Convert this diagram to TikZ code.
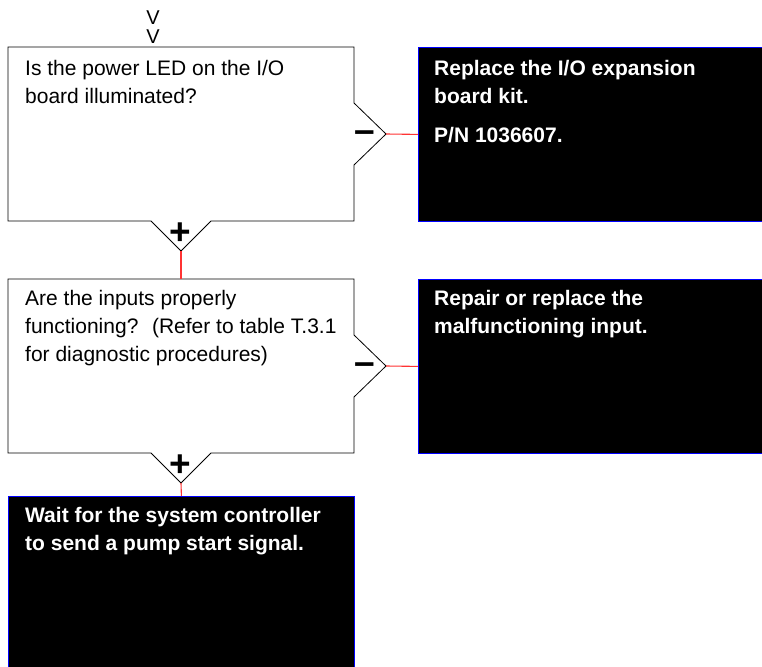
\documentclass[tikz,border=0pt]{standalone}
\usepackage{fontspec}
\setmainfont{Liberation Sans}
\usetikzlibrary{positioning}

\tikzset{
  question/.style={draw=black,line width=0.8pt,fill=white},
  action/.style={draw=blue,fill=black,line width=0.8pt,anchor=north west,inner sep=0pt},
  qtext/.style={anchor=north west,inner sep=0pt,align=left,font=\fontsize{21}{28}\selectfont},
  atext/.style={qtext,text=white,font=\fontsize{21}{28}\selectfont\bfseries},
  link/.style={draw=red!80,line width=1.1pt},
  sign/.style={inner sep=0pt,font=\fontsize{37}{37}\selectfont\bfseries},
  entry/.style={anchor=base,inner sep=0pt,font=\fontsize{20}{20}\selectfont}
}

\begin{document}
\begin{tikzpicture}[x=1pt,y=-1pt]
  \useasboundingbox (0,0) rectangle (762,666);
  \clip (0,0) rectangle (762,666);

  % entry marks
  \node[entry] (v1) at (153,25) {V};
  \node[entry] (v2) at (153,44) {V};

  % question 1
  \draw[question] (8,47) -- (354,47) -- (354,103) -- (386,134) coordinate (q1no)
    -- (354,165) -- (354,221) -- (211,221) -- (181,251) coordinate (q1yes)
    -- (151,221) -- (8,221) -- cycle;
  \node[qtext] (q1) at (25,55.4) {\strut Is the power LED on the I/O\\board illuminated?};
  \node[sign] (q1minus) at (365,137) {–};
  \node[sign] (q1plus) at (180,234) {+};

  % question 2
  \draw[question] (8,279) -- (354,279) -- (354,335) -- (386,366) coordinate (q2no)
    -- (354,397) -- (354,453) -- (211,453) -- (181,483) coordinate (q2yes)
    -- (151,453) -- (8,453) -- cycle;
  \coordinate (q2in) at (181,279);
  \node[qtext] (q2) at (25,285.4) {\strut Are the inputs properly\\functioning?~ (Refer to table T.3.1\\for diagnostic procedures)};
  \node[sign] (q2minus) at (365,369) {–};
  \node[sign] (q2plus) at (180,466) {+};

  % actions
  \node[action,minimum width=352pt,minimum height=174pt] (a1) at (418,47) {};
  \node[atext] (a1t) at (434,55.4) {\strut Replace the I/O expansion\\board kit.\\[11pt]P/N 1036607.};

  \node[action,minimum width=352pt,minimum height=174pt] (a2) at (418,279) {};
  \node[atext] (a2t) at (434,285.4) {\strut Repair or replace the\\malfunctioning input.};

  \node[action,minimum width=346pt,minimum height=190pt] (a3) at (8,496) {};
  \node[atext] (a3t) at (25,502.4) {\strut Wait for the system controller\\to send a pump start signal.};

  % connections
  \draw[link] (q1no) -- (a1.west);
  \draw[link] (q1yes) -- (q2in);
  \draw[link] (q2no) -- (a2.west);
  \draw[link] (q2yes) -- (a3.north);
\end{tikzpicture}
\end{document}
